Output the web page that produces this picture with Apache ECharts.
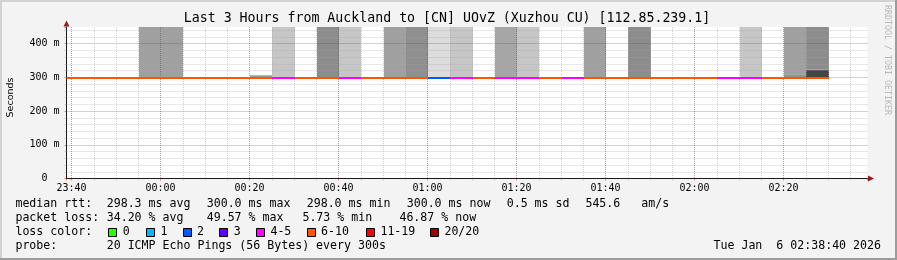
<!DOCTYPE html>
<html><head><meta charset="utf-8">
<script src="https://cdn.jsdelivr.net/npm/echarts@6/dist/echarts.min.js"></script>
<style>html,body{margin:0;padding:0;background:#f3f3f3;}#c{width:897px;height:260px;}</style>
</head><body><div id="c"></div>
<script>
// ---- data ----
const slotTimes = ['23:35','23:40','23:45','23:50','23:55','00:00','00:05','00:10','00:15','00:20',
  '00:25','00:30','00:35','00:40','00:45','00:50','00:55','01:00','01:05','01:10',
  '01:15','01:20','01:25','01:30','01:35','01:40','01:45','01:50','01:55','02:00',
  '02:05','02:10','02:15','02:20','02:25'];
const slotLoss = ['6-10','6-10','6-10','6-10','6-10','6-10','6-10','6-10','6-10','6-10',
  '4-5','6-10','6-10','4-5','6-10','6-10','6-10','2','4-5','6-10',
  '4-5','4-5','6-10','4-5','6-10','6-10','6-10','6-10','6-10','6-10',
  '4-5','4-5','6-10','6-10','6-10'];
const slotMedian = [298,298,298,298,298,298,298,298,298,298,
  298,298,298,298,298,300,298,298,298,298,
  298,298,298,298,300,298,298,298,298,298,
  298,298,298,300,300];
const smokeTimes = ['23:55','00:00','00:20','00:25','00:35','00:40','00:50','00:55','01:00','01:05',
  '01:15','01:20','01:35','01:45','02:10','02:20','02:20','02:25','02:25'];
const smokeLow  = [298,298,298,298,298,298,298,298,298,298,298,298,298,298,298,298,309,298,322];
const smokeHigh = [500,500,306,500,500,500,500,500,500,500,500,500,500,500,500,309,500,322,500];
const smokeShade = ['#a0a0a0','#a0a0a0','#999999','#c6c6c6','#8c8c8c','#c6c6c6','#a0a0a0','#8f8f8f','#dcdcdc','#c6c6c6',
  '#a6a6a6','#c6c6c6','#a0a0a0','#8c8c8c','#c6c6c6','#929292','#a0a0a0','#444444','#8c8c8c'];
const lossBuckets = ['0','1','2','3','4-5','6-10','11-19','20/20'];
const lossColors  = ['#26ff00','#00b8ff','#0059ff','#5e00ff','#ff00ff','#ff5500','#ff0000','#a10000'];
const xTickLabels = ['23:40','00:00','00:20','00:40','01:00','01:20','01:40','02:00','02:20'];
const yTickLabels = ['0  ','100 m','200 m','300 m','400 m'];
const STEP = 5; // minutes (300 s)
const viewStart = 38.87, viewEnd = 218.87; // minutes after 23:00
const yMax = 449;

function toMin(s){ const p=s.split(':'); const m=(+p[0])*60+(+p[1]); return (m-1380+1440)%1440; }
function fmtMin(v){ const t=Math.round(v)+1380; const h=Math.floor(t/60)%24, m=t%60; return (h<10?'0':'')+h+':'+(m<10?'0':'')+m; }

const MONO = '"DejaVu Sans Mono", monospace';
const chart = echarts.init(document.getElementById('c'), null, {renderer:'canvas'});

function clipTo(params, r){
  const cs = params.coordSys;
  return echarts.graphic.clipRectByRect(r, {x:cs.x, y:cs.y, width:cs.width, height:cs.height});
}

const gridCol = 'rgba(255,0,0,0.5)';
const minorCol = 'rgba(170,170,170,0.55)';

const graphics = [];
// frame shading
graphics.push({type:'rect', shape:{x:0,y:0,width:897,height:2}, style:{fill:'#d2d2d2'}, silent:true});
graphics.push({type:'rect', shape:{x:0,y:0,width:2,height:260}, style:{fill:'#d2d2d2'}, silent:true});
graphics.push({type:'rect', shape:{x:895,y:0,width:2,height:260}, style:{fill:'#9c9c9c'}, silent:true});
graphics.push({type:'rect', shape:{x:0,y:258,width:897,height:2}, style:{fill:'#9c9c9c'}, silent:true});
function txt(x,y,s,font,fill,align,rot){
  const e = {type:'text', x:x, y:y, silent:true,
    style:{text:s, font:font, fill:fill||'#000', textAlign:align||'left', align:align||'left',
      textVerticalAlign:'middle', verticalAlign:'middle'}};
  if (rot) e.rotation = rot;
  return e;
}
graphics.push(txt(447,19,'Last 3 Hours from Auckland to [CN] UOvZ (Xuzhou CU) [112.85.239.1]','13.25px '+MONO,'#000','center'));
graphics.push(txt(10.5,97.5,'Seconds','9.5px "DejaVu Sans", sans-serif','#000','center',Math.PI/2));
graphics.push(txt(887,60,'RRDTOOL / TOBI OETIKER','8.3px '+MONO,'#b8b8b8','center',-Math.PI/2));
const LF = '11.6px '+MONO;
const rows = [
  [204.3, [[16,'median rtt:'],[107.3,'298.3 ms avg'],[207.3,'300.0 ms max'],[307.3,'298.0 ms min'],[407.3,'300.0 ms now'],[507.3,'0.5 ms sd'],[586,'545.6   am/s']]],
  [218.3, [[16,'packet loss:'],[107.3,'34.20 % avg'],[207.3,'49.57 % max'],[303,'5.73 % min'],[400,'46.87 % now']]],
  [232.3, [[16,'loss color:']]],
  [246.3, [[16,'probe:'],[107.3,'20 ICMP Echo Pings (56 Bytes) every 300s']]]
];
rows.forEach(r => r[1].forEach(it => graphics.push(txt(it[0]-0.6, r[0], it[1], LF))));
graphics.push(txt(881,246.3,'Tue Jan  6 02:38:40 2026',LF,'#000','right'));
const boxX = [108.3,146,182.7,219.3,256,306.7,366,430];
lossBuckets.forEach((b,i) => {
  graphics.push({type:'rect', silent:true, shape:{x:Math.round(boxX[i])+0.5, y:228.5, width:8, height:8},
    style:{fill:lossColors[i], stroke:'#000', lineWidth:1}});
  graphics.push(txt(boxX[i]+14.4, 232.3, b, LF));
});

const option = {
  animation:false,
  backgroundColor:'#f3f3f3',
  grid:{left:66.5, right:29.5, top:27, bottom:81.5, show:true, backgroundColor:'#ffffff', borderWidth:0, containLabel:false},
  graphic:{elements:graphics},
  xAxis:[
    { // arrow only
      type:'value', min:viewStart, max:viewEnd, position:'bottom', z:2,
      axisLine:{show:true, onZero:false, symbol:['none','triangle'], symbolSize:[6,6], symbolOffset:[0,3.5],
        lineStyle:{color:'#9e1a1a', width:0}},
      axisTick:{show:false}, axisLabel:{show:false}, splitLine:{show:false}
    },
    {
      type:'value', min:viewStart, max:viewEnd, splitNumber:9, position:'bottom', z:2,
      axisLine:{show:true, onZero:false, lineStyle:{color:'#1a1a1a', width:1}},
      axisTick:{show:true, length:2, lineStyle:{color:gridCol}},
      minorTick:{show:true, splitNumber:4, length:2, lineStyle:{color:minorCol}},
      axisLabel:{show:true, margin:4.5, fontFamily:MONO, fontSize:10, color:'#000',
        showMinLabel:false, showMaxLabel:false,
        formatter:(v)=>{ const s=fmtMin(v); return (Math.abs(v-Math.round(v))<1e-6 && xTickLabels.indexOf(s)>=0)?s:''; }},
      splitLine:{show:true, showMinLine:false, showMaxLine:false, lineStyle:{color:gridCol, type:[1,1], width:1}},
      minorSplitLine:{show:true, lineStyle:{color:minorCol, type:[1,1], width:1}}
    }
  ],
  yAxis:[
    {
      type:'value', min:0, max:yMax, position:'left', z:2,
      axisLine:{show:true, onZero:false, symbol:['none','triangle'], symbolSize:[6,6], symbolOffset:[0,3.5],
        lineStyle:{color:'#9e1a1a', width:0}},
      axisTick:{show:false}, axisLabel:{show:false}, splitLine:{show:false}
    },
    {
      type:'value', min:0, max:yMax, interval:100, position:'left', z:2,
      axisLine:{show:true, onZero:false, lineStyle:{color:'#1a1a1a', width:1}},
      axisTick:{show:true, length:2, lineStyle:{color:gridCol}},
      minorTick:{show:true, splitNumber:5, length:2, lineStyle:{color:minorCol}},
      axisLabel:{show:true, margin:7, fontFamily:MONO, fontSize:10, color:'#000',
        showMaxLabel:false,
        formatter:(v)=>{ const i=v/100; return (Number.isInteger(i) && yTickLabels[i]!==undefined)?yTickLabels[i]:''; }},
      splitLine:{show:true, showMinLine:false, showMaxLine:false, lineStyle:{color:gridCol, type:[1,1], width:1}},
      minorSplitLine:{show:true, lineStyle:{color:minorCol, type:[1,1], width:1}}
    }
  ],
  series:[
    {
      type:'custom', name:'smoke', xAxisIndex:1, yAxisIndex:1, z:1, silent:true,
      data: smokeTimes.map((t,i)=>[toMin(t), toMin(t)+STEP, smokeLow[i], smokeHigh[i], i]),
      encode:{x:[0,1], y:[2,3]},
      renderItem:(params, api)=>{
        const a = api.coord([api.value(0), api.value(3)]);
        const b = api.coord([api.value(1), api.value(2)]);
        const x0 = Math.ceil(a[0]), x1 = Math.ceil(b[0]);
        const r = clipTo(params, {x:x0, y:a[1], width:x1-x0, height:b[1]-a[1]});
        return r ? {type:'rect', shape:r, style:{fill:smokeShade[api.value(4)]}} : null;
      }
    },
    {
      type:'custom', name:'median rtt', xAxisIndex:1, yAxisIndex:1, z:5, silent:true,
      data: slotTimes.map((t,i)=>[toMin(t), toMin(t)+STEP, slotMedian[i], i]),
      encode:{x:[0,1], y:[2]},
      renderItem:(params, api)=>{
        const a = api.coord([api.value(0), api.value(2)]);
        const b = api.coord([api.value(1), api.value(2)]);
        const x0 = Math.ceil(a[0]), x1 = Math.ceil(b[0]);
        const y = Math.floor(a[1]);
        const r = clipTo(params, {x:x0, y:y, width:x1-x0, height:2});
        const col = lossColors[lossBuckets.indexOf(slotLoss[api.value(3)])];
        return r ? {type:'rect', shape:r, style:{fill:col}} : null;
      }
    }
  ]
};
chart.setOption(option);
</script></body></html>
